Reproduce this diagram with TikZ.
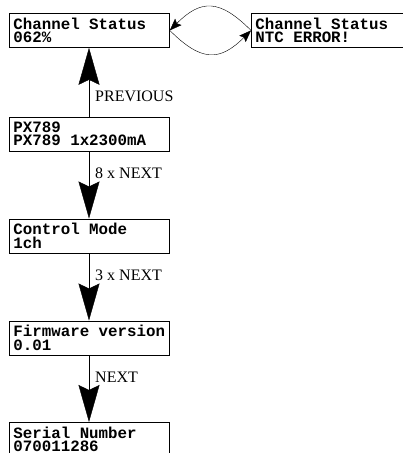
\documentclass[tikz,border=0pt]{standalone}
\usepackage{fontspec}
\usetikzlibrary{arrows.meta}
\setmonofont{Liberation Mono}
\newfontfamily\labelfont{Liberation Serif}

\tikzset{
  screen/.style={draw, thick, anchor=north west, rectangle, minimum height=34pt,
    text width=152pt, inner xsep=4pt, inner ysep=0pt, align=left,
    font=\ttfamily\bfseries\fontsize{15.8}{13.5}\selectfont,
    execute at begin node={\spaceskip=0.6em\relax}},
  bigarrow/.style={-{Stealth[length=37pt, width=21pt, inset=5pt]}},
  smallarrow/.style={-{Stealth[length=12pt, width=9pt, inset=2pt]}},
  keylabel/.style={right, inner xsep=6pt, font=\labelfont\fontsize{16}{16}\selectfont}
}

\begin{document}
\begin{tikzpicture}[x=1pt, y=1pt]
        \useasboundingbox (0, 0) rectangle (403, -453);

        \node[screen] (status) at (9, -13) {Channel Status\\062\%};
        \node[screen] (ntc) at (251, -13) {Channel Status\\NTC ERROR!};
        \node[screen] (device) at (9, -116.5) {PX789\\PX789 1x2300mA};
        \node[screen] (mode) at (9, -218.5) {Control Mode\\1ch};
        \node[screen] (firmware) at (9, -320.5) {Firmware version\\0.01};
        \node[screen] (serial) at (9, -422) {Serial Number\\070011286};

        % toggling between the two status screens
        \draw[smallarrow] (ntc.west) to[out=135, in=45, looseness=1.4] (status.east);
        \draw[smallarrow] (status.east) to[out=-45, in=-135, looseness=1.4] (ntc.west);

        % menu steps
        \draw[bigarrow] (device.north -| 89, 0) -- (status.south -| 89, 0)
              node[keylabel, pos=0.3] (prevlabel) {PREVIOUS};
        \draw[bigarrow] (device.south -| 89, 0) -- (mode.north -| 89, 0)
              node[keylabel, pos=0.33] (nextlabel1) {8 x NEXT};
        \draw[bigarrow] (mode.south -| 89, 0) -- (firmware.north -| 89, 0)
              node[keylabel, pos=0.33] (nextlabel2) {3 x NEXT};
        \draw[bigarrow] (firmware.south -| 89, 0) -- (serial.north -| 89, 0)
              node[keylabel, pos=0.33] (nextlabel3) {NEXT};
      \end{tikzpicture}
\end{document}
